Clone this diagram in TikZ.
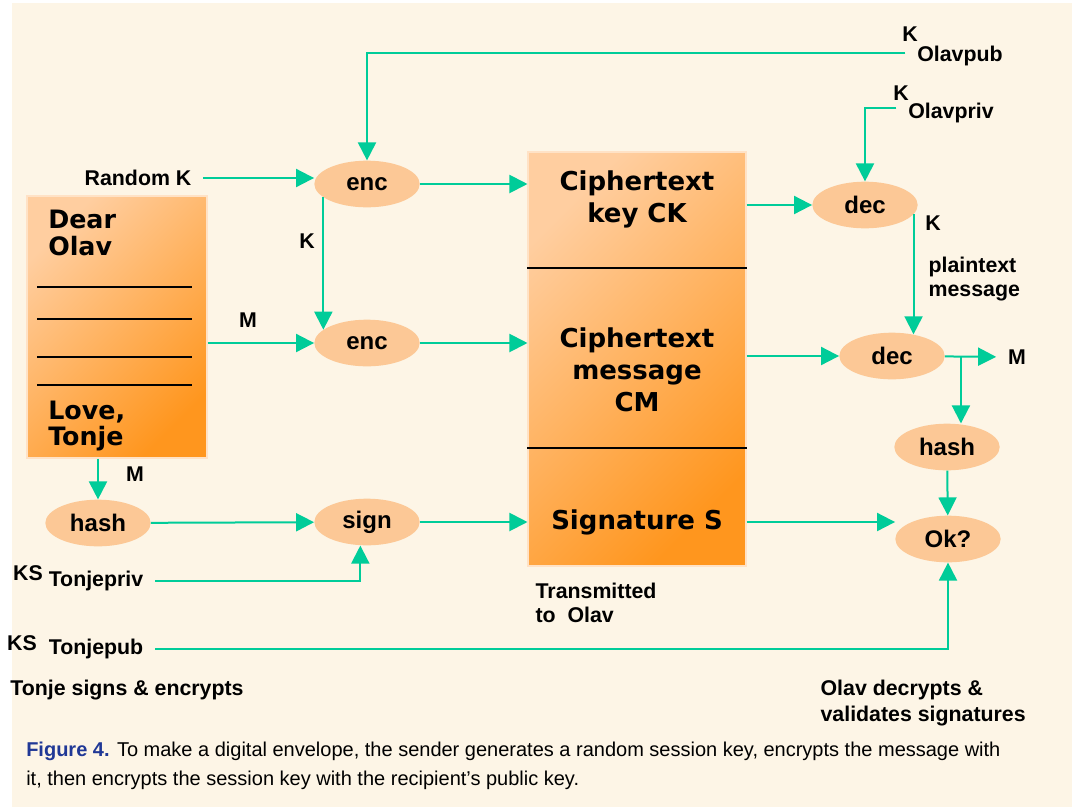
\documentclass[tikz,border=0pt]{standalone}
\usepackage{fontspec}
\setmainfont{Liberation Sans}
\newfontfamily\widefont{DejaVu Sans}
\usetikzlibrary{arrows.meta,shapes.geometric,positioning}

\definecolor{paper}{RGB}{253,245,230}
\definecolor{flow}{RGB}{0,204,153}
\definecolor{opfill}{RGB}{252,200,150}
\definecolor{boxlight}{RGB}{255,206,160}
\definecolor{boxdark}{RGB}{255,150,30}
\definecolor{capblue}{RGB}{32,56,150}

\begin{document}
\begin{tikzpicture}[x=0.75pt,y=-0.75pt,
    >={Triangle[length=13.5pt,width=13.5pt]},
    conn/.style={->,draw=flow,line width=1.5pt},
    op/.style={ellipse,fill=opfill,minimum width=79pt,minimum height=35pt,inner sep=0pt,font=\fontsize{18}{20}\selectfont\bfseries},
    lbl/.style={inner sep=1pt,font=\fontsize{16}{18}\selectfont\bfseries},
    src/.style={lbl,outer sep=8pt},
    sheet/.style={rectangle,draw=boxlight!60!white,line width=0.8pt,top color=boxlight,bottom color=boxdark,shading angle=45,inner sep=0pt},
    big/.style={inner sep=0pt,align=center,font=\widefont\fontsize{19.5}{24}\selectfont\bfseries},
    note/.style={inner sep=0pt,anchor=base west,font=\widefont\fontsize{19}{20}\selectfont\bfseries}]
    \useasboundingbox (0,0) rectangle (1080,807);
    \fill[white] (0,0) rectangle (1080,807);
    \fill[paper] (12,3) rectangle (1072,807);

    % letter and transmitted block
    \node[sheet,minimum width=135pt,minimum height=196.5pt] (letter) at (117,327) {};
    \node[note] (dear) at (48,228) {Dear};
    \node[note] (olav) at (48,255) {Olav};
    \node[note] (love) at (48,419) {Love,};
    \node[note] (tonje) at (48,445) {Tonje};
    \foreach \y in {287,319,357,385}
        \draw[line width=2.2pt] (37,\y) -- (192,\y);

    \node[sheet,minimum width=163.5pt,minimum height=310.5pt] (ctbox) at (637,359) {};
    \node[big] (ck) at (637,199) {Ciphertext\\key CK};
    \node[big] (cm) at (637,370) {Ciphertext\\message\\CM};
    \node[big] (sig) at (637,522) {Signature S};
    \foreach \y in {268,448}
        \draw[line width=2pt] (ctbox.west |- 0,\y) -- (ctbox.east |- 0,\y);

    % operations
    \node[op] (enc1) at (367,184) {enc};
    \node[op] (enc2) at (367,343) {enc};
    \node[op] (hash1) at (98,523) {hash};
    \node[op] (sign) at (367,522) {sign};
    \node[op] (dec1) at (865,205) {dec};
    \node[op] (dec2) at (892,356) {dec};
    \node[op] (hash2) at (947,447) {hash};
    \node[op] (ok) at (948,539) {Ok?};

    % labels
    \node[src] (randk) at (138,178) {Random K};
    \node[lbl] (kpubK) at (910,34) {K};
    \node[src] (kpub) at (960,56) {Olavpub};
    \node[lbl] (kprivK) at (901,93) {K};
    \node[src] (kpriv) at (951,113) {Olavpriv};
    \node[lbl] (kenc) at (307,241) {K};
    \node[lbl] (menc) at (248,320) {M};
    \node[lbl] (mhash) at (135,474) {M};
    \node[lbl] (kspriv) at (28,573) {KS};
    \node[src] (tpriv) at (96,581) {Tonjepriv};
    \node[lbl] (kspub) at (22,643) {KS};
    \node[src] (tpub) at (96,649) {Tonjepub};
    \node[lbl] (kdec) at (933,223) {K};
    \node[lbl,anchor=west,align=left] (plain) at (927,279) {plaintext\\message};
    \node[src] (mout) at (1017,357) {M};
    \node[lbl,anchor=west,align=left] (trans) at (534,603) {Transmitted\\to~ Olav};
    \node[lbl] (sender) at (127,690) {Tonje signs \& encrypts};
    \node[lbl,anchor=west,align=left,font=\fontsize{16}{19.5}\selectfont\bfseries] (receiver) at (819,703) {Olav decrypts \&\\validates signatures};

    \node[anchor=west,align=left,inner sep=0pt,font=\fontsize{15}{21.75}\selectfont] (caption) at (26,766)
        {\textcolor{capblue}{\bfseries Figure 4.} To make a digital envelope, the sender generates a random session key, encrypts the message with\\it, then encrypts the session key with the recipient’s public key.};

    % sender side
    \draw[conn] (randk.east) -- (randk.east -| enc1.west);
    \draw[conn] ([yshift=2pt]kpub.west) -| (enc1);
    \draw[conn] (enc1.197) -- (enc2.163);
    \draw[conn] (letter.east |- enc2) -- (enc2);
    \draw[conn] (enc1) -- (enc1 -| ctbox.west);
    \draw[conn] (enc2) -- (enc2 -| ctbox.west);
    \draw[conn] (letter.south -| hash1) -- (hash1);
    \draw[conn] (hash1) -- (sign);
    \draw[conn] (sign) -- (sign -| ctbox.west);
    \draw[conn] (tpriv.east) -| ([xshift=-5pt]sign.south);

    % receiver side
    \draw[conn] ([yshift=4pt]kpriv.west) -| (dec1);
    \draw[conn] (ctbox.east |- dec1) -- (dec1);
    \draw[conn] (dec1.-11) -- (dec1.-11 |- dec2.46);
    \draw[conn] (ctbox.east |- dec2) -- (dec2);
    \draw[conn] (dec2) -- (mout);
    \coordinate (split) at ([xshift=12pt]dec2.east);
    \draw[conn] (split) -- (split |- hash2.north);
    \draw[conn] (hash2) -- (ok);
    \draw[conn] (ctbox.east |- sig) -- (sig -| ok.west);
    \draw[conn] (tpub.east) -| (ok);
\end{tikzpicture}
\end{document}
